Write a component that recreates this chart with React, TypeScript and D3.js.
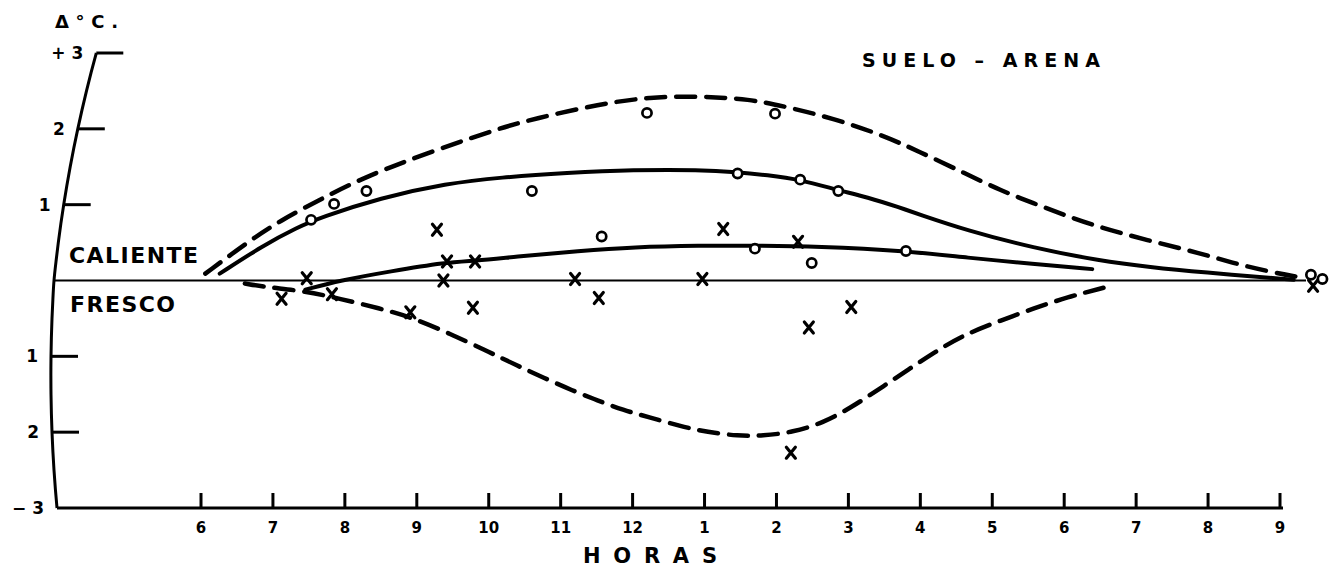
import React from "react";
import * as d3 from "d3";

// ---- data (hours: 6 = 6 a.m. ... 21 = 9 p.m.; values in delta °C) ----
const hourTicks = [6, 7, 8, 9, 10, 11, 12, 13, 14, 15, 16, 17, 18, 19, 20, 21];
const hourLabels = ["6", "7", "8", "9", "10", "11", "12", "1", "2", "3", "4", "5", "6", "7", "8", "9"];
const yTickValues = [3, 2, 1, -1, -2, -3];
const yTickLabels = ["+ 3", "2", "1", "1", "2", "− 3"];

// maximum (dashed, warm side)
const maxCurve: [number, number][] = [
  [6.06, 0.09], [6.64, 0.5], [7.1, 0.79], [7.7, 1.09], [8.31, 1.38], [9.23, 1.71],
  [10.16, 2.01], [10.62, 2.13], [11.55, 2.33], [12.24, 2.42], [12.94, 2.43], [13.64, 2.39],
  [14.09, 2.3], [14.79, 2.14], [15.49, 1.91], [15.96, 1.71], [16.65, 1.4], [17.11, 1.19],
  [17.57, 1.02], [18.04, 0.85], [18.5, 0.7], [19.2, 0.52], [19.89, 0.36], [20.35, 0.23],
  [20.83, 0.12], [21.29, 0.04],
];
// mean warm (solid upper)
const warmCurve: [number, number][] = [
  [6.26, 0.09], [6.86, 0.46], [7.34, 0.7], [7.66, 0.83], [8.49, 1.09], [9.42, 1.28],
  [10.16, 1.36], [11.09, 1.42], [12.01, 1.46], [12.94, 1.46], [13.45, 1.43], [13.87, 1.39],
  [14.33, 1.33], [14.86, 1.19], [15.26, 1.1], [15.72, 0.96], [15.96, 0.88], [16.65, 0.66],
  [17.57, 0.43], [18.5, 0.26], [19.2, 0.175], [19.89, 0.11], [21.19, 0.01],
];
// mean (solid lower)
const meanCurve: [number, number][] = [
  [7.45, -0.12], [7.93, 0.0], [8.63, 0.12], [9.41, 0.24], [9.81, 0.26], [10.34, 0.31],
  [11.27, 0.39], [12.01, 0.44], [12.94, 0.46], [13.69, 0.46], [14.57, 0.45], [15.81, 0.39],
  [16.65, 0.3], [17.57, 0.22], [18.39, 0.15],
];
// minimum (dashed, cool side)
const minCurve: [number, number][] = [
  [6.61, -0.04], [6.93, -0.09], [7.45, -0.14], [7.93, -0.24], [8.49, -0.37], [8.91, -0.48],
  [9.46, -0.7], [10.02, -0.95], [10.39, -1.12], [10.76, -1.28], [11.16, -1.45], [11.51, -1.58],
  [11.87, -1.71], [12.22, -1.8], [12.66, -1.92], [13.04, -2.0], [13.47, -2.05], [13.8, -2.05],
  [14.23, -2.0], [14.64, -1.88], [15.03, -1.68], [15.4, -1.45], [16.28, -0.89], [16.65, -0.7],
  [17.11, -0.53], [17.57, -0.37], [18.04, -0.22], [18.57, -0.09],
];

const circleHours = [7.53, 7.85, 8.3, 10.6, 11.57, 12.2, 13.46, 13.7, 13.98, 14.33, 14.49, 14.86, 15.8, 21.43, 21.59];
const circleValues = [0.8, 1.01, 1.18, 1.18, 0.58, 2.21, 1.41, 0.42, 2.2, 1.33, 0.23, 1.18, 0.39, 0.075, 0.02];

const crossHours = [7.12, 7.47, 7.82, 8.91, 9.28, 9.42, 9.37, 9.81, 9.78, 11.2, 11.53, 12.97, 13.26, 14.3, 14.45, 15.04, 14.2, 21.46];
const crossValues = [-0.24, 0.03, -0.18, -0.42, 0.67, 0.25, 0.0, 0.25, -0.36, 0.02, -0.23, 0.02, 0.68, 0.51, -0.62, -0.35, -2.27, -0.07];

const FONT = "'DejaVu Sans', 'Liberation Sans', sans-serif";

export default function App() {
  const W = 1340;
  const H = 568;
  const x = d3.scaleLinear().domain([6, 21]).range([201, 1280]);
  const y = d3.scaleLinear().domain([-3, 3]).range([508, 53]);

  // the hand-drawn vertical axis bows to the right toward the top
  const axisX = (v: number) => (v >= 0 ? 54 + 7.5 * v + 2.2 * v * v : 54 + 5 * v + 2 * v * v);

  const curve = d3
    .line<[number, number]>()
    .x((d) => x(d[0]))
    .y((d) => y(d[1]))
    .curve(d3.curveBasis);

  const axisLine = d3
    .line<number>()
    .x((v) => axisX(v))
    .y((v) => y(v))
    .curve(d3.curveNatural);
  const axisVals = d3.range(-3, 3.001, 0.25);

  const dash = "19 11";

  return (
    <svg
      width={W}
      height={H}
      viewBox={`0 0 ${W} ${H}`}
      style={{ position: "absolute", left: 0, top: 0, background: "#fff" }}
      fontFamily={FONT}
      fontWeight="bold"
    >
      <rect x={0} y={0} width={W} height={H} fill="#fff" />

      {/* vertical axis */}
      <path d={axisLine(axisVals) || ""} fill="none" stroke="#000" strokeWidth={3} />
      {yTickValues.map((v, i) => (
        <g key={"yt" + i}>
          {v !== -3 && (
            <line x1={axisX(v)} x2={axisX(v) + 27} y1={y(v)} y2={y(v)} stroke="#000" strokeWidth={3} />
          )}
          <text x={axisX(v) - 13} y={y(v) + 6} textAnchor="end" fontSize={17} fill="#000">
            {yTickLabels[i]}
          </text>
        </g>
      ))}

      {/* bottom axis */}
      <line x1={axisX(-3)} x2={x(21) + 3} y1={y(-3)} y2={y(-3)} stroke="#000" strokeWidth={3} />
      {hourTicks.map((h, i) => (
        <g key={"xt" + i}>
          <line x1={x(h)} x2={x(h)} y1={y(-3)} y2={y(-3) - 15} stroke="#000" strokeWidth={3} />
          <text x={x(h)} y={533} textAnchor="middle" fontSize={15} fill="#000">
            {hourLabels[i]}
          </text>
        </g>
      ))}

      {/* zero line */}
      <line x1={axisX(0)} x2={1306} y1={y(0)} y2={y(0)} stroke="#000" strokeWidth={2.2} />

      {/* curves */}
      <path d={curve(maxCurve) || ""} fill="none" stroke="#000" strokeWidth={4.5} strokeDasharray={dash} strokeLinecap="round" />
      <path d={curve(minCurve) || ""} fill="none" stroke="#000" strokeWidth={4.5} strokeDasharray={dash} strokeLinecap="round" />
      <path d={curve(warmCurve) || ""} fill="none" stroke="#000" strokeWidth={4} strokeLinecap="round" />
      <path d={curve(meanCurve) || ""} fill="none" stroke="#000" strokeWidth={4} strokeLinecap="round" />

      {/* observations */}
      {circleHours.map((h, i) => (
        <circle key={"c" + i} cx={x(h)} cy={y(circleValues[i])} r={4.6} fill="#fff" stroke="#000" strokeWidth={2.7} />
      ))}
      {crossHours.map((h, i) => (
        <path
          key={"x" + i}
          transform={`translate(${x(h)},${y(crossValues[i])})`}
          d="M-4.5,-5.5 Q0,0 4.5,5.5 M4.5,-5.5 Q0,0 -4.5,5.5"
          fill="none"
          stroke="#000"
          strokeWidth={3.2}
          strokeLinecap="round"
        />
      ))}

      {/* labels */}
      <text x={55} y={28} fontSize={18} fill="#000" textLength={63} lengthAdjust="spacing">
        Δ°C.
      </text>
      <text x={69} y={263} fontSize={22} fill="#000" textLength={129} lengthAdjust="spacing">
        CALIENTE
      </text>
      <text x={70} y={312} fontSize={22} fill="#000" textLength={105} lengthAdjust="spacing">
        FRESCO
      </text>
      <text x={862} y={67} fontSize={19} fill="#000" textLength={238} lengthAdjust="spacing">
        SUELO – ARENA
      </text>
      <text x={583} y={563} fontSize={21} fill="#000" textLength={134} lengthAdjust="spacing">
        HORAS
      </text>
    </svg>
  );
}
